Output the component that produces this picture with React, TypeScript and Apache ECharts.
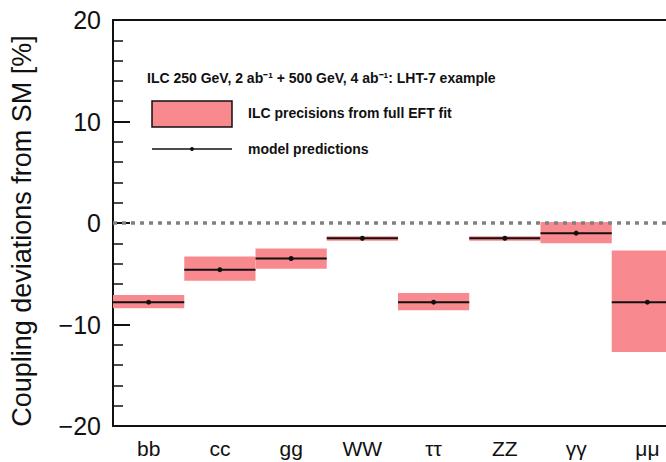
import React, { useEffect, useRef } from "react";
import * as echarts from "echarts";

const categories = ["bb", "cc", "gg", "WW", "ττ", "ZZ", "γγ", "μμ"];
const predictions = [-7.8, -4.6, -3.5, -1.5, -7.8, -1.5, -1.0, -7.8];
const precisionLow = [-8.4, -5.7, -4.5, -1.75, -8.6, -1.75, -2.0, -12.7];
const precisionHigh = [-7.1, -3.3, -2.5, -1.3, -6.9, -1.3, 0.1, -2.7];
const referenceLine = [0];
const yTicks = { min: -20, max: 20, interval: 10 };

const PINK = "#f8898e";
const FONT = "Liberation Sans, Arial, Helvetica, sans-serif";

export default function App() {
  const ref = useRef<HTMLDivElement>(null);
  useEffect(() => {
    document.body.style.margin = "0";
    document.body.style.overflow = "hidden";
    const chart = echarts.init(ref.current!, undefined, { renderer: "svg" });
    const data = categories.map((c, i) => [i, precisionLow[i], precisionHigh[i], predictions[i]]);
    chart.setOption({
      animation: false,
      backgroundColor: "#ffffff",
      grid: { left: 113, right: 17, top: 20, bottom: 36 },
      xAxis: [
        {
          type: "category",
          data: categories,
          position: "bottom",
          boundaryGap: true,
          axisLine: { onZero: false, lineStyle: { color: "#111", width: 2 } },
          axisTick: { inside: true, length: 13, lineStyle: { color: "#111", width: 2 } },
          axisLabel: { fontFamily: FONT, fontSize: 21, color: "#111", margin: 12 },
          splitLine: { show: false },
        },
        {
          type: "category",
          data: categories,
          position: "top",
          boundaryGap: true,
          axisLine: { onZero: false, lineStyle: { color: "#111", width: 2 } },
          axisTick: { inside: true, length: 12, lineStyle: { color: "#111", width: 2 } },
          axisLabel: { show: false },
          splitLine: { show: false },
        },
      ],
      yAxis: {
        type: "value",
        min: yTicks.min,
        max: yTicks.max,
        interval: yTicks.interval,
        axisLine: { show: true, onZero: false, lineStyle: { color: "#111", width: 2 } },
        axisTick: { show: true, inside: true, length: 17, lineStyle: { color: "#111", width: 2 } },
        minorTick: { show: true, splitNumber: 5, length: 10, lineStyle: { color: "#111", width: 1.5 } },
        splitLine: { show: false },
        axisLabel: {
          fontFamily: FONT,
          fontSize: 25,
          color: "#111",
          margin: 12,
          formatter: (v: number) => String(v).replace("-", "\u2212"),
        },
      },
      series: [
        {
          type: "custom",
          xAxisIndex: 0,
          data,
          encode: { x: 0, y: [1, 2, 3] },
          renderItem: (params: any, api: any) => {
            const idx = api.value(0);
            const lo = api.value(1);
            const hi = api.value(2);
            const v = api.value(3);
            const bw = api.size([1, 0])[0];
            const pLo = api.coord([idx, lo]);
            const pHi = api.coord([idx, hi]);
            const pV = api.coord([idx, v]);
            return {
              type: "group",
              children: [
                {
                  type: "rect",
                  shape: { x: pLo[0] - bw / 2, y: pHi[1], width: bw, height: pLo[1] - pHi[1] },
                  style: { fill: PINK },
                },
                {
                  type: "line",
                  shape: { x1: pV[0] - bw / 2, y1: pV[1], x2: pV[0] + bw / 2, y2: pV[1] },
                  style: { stroke: "#111", lineWidth: 2 },
                },
                {
                  type: "circle",
                  shape: { cx: pV[0], cy: pV[1], r: 2.5 },
                  style: { fill: "#111" },
                },
              ],
            };
          },
          markLine: {
            silent: true,
            symbol: "none",
            z: 10,
            label: { show: false },
            emphasis: { disabled: true },
            lineStyle: { color: "#808080", width: 3.5, type: [4, 5], opacity: 1 },
            data: referenceLine.map((y) => ({
              yAxis: y,
              lineStyle: { color: "#808080", width: 3.5, type: [4, 5] },
            })),
          },
        },
      ],
      graphic: [
        {
          type: "text",
          x: 22,
          y: 231,
          rotation: Math.PI / 2,
          style: {
            text: "Coupling deviations from SM [%]",
            fontFamily: FONT,
            fontSize: 27,
            fill: "#111",
            textAlign: "center",
            textVerticalAlign: "middle",
          },
        },
        {
          type: "text",
          x: 147,
          y: 78,
          style: {
            text: "ILC 250 GeV, 2 ab\u207B\u00B9 + 500 GeV, 4 ab\u207B\u00B9: LHT-7 example",
            fontFamily: FONT,
            fontSize: 14,
            fontWeight: "bold",
            fill: "#111",
            textVerticalAlign: "middle",
          },
        },
        {
          type: "rect",
          shape: { x: 152, y: 101, width: 80, height: 26 },
          style: { fill: PINK, stroke: "#111", lineWidth: 1.5 },
        },
        {
          type: "text",
          x: 248,
          y: 113,
          style: {
            text: "ILC precisions from full EFT fit",
            fontFamily: FONT,
            fontSize: 14,
            fontWeight: "bold",
            fill: "#111",
            textVerticalAlign: "middle",
          },
        },
        {
          type: "line",
          shape: { x1: 152, y1: 149, x2: 232, y2: 149 },
          style: { stroke: "#111", lineWidth: 1.5 },
        },
        {
          type: "circle",
          shape: { cx: 192, cy: 149, r: 2 },
          style: { fill: "#111" },
        },
        {
          type: "text",
          x: 248,
          y: 149,
          style: {
            text: "model predictions",
            fontFamily: FONT,
            fontSize: 14,
            fontWeight: "bold",
            fill: "#111",
            textVerticalAlign: "middle",
          },
        },
      ],
    });
    return () => chart.dispose();
  }, []);
  return (
    <div
      ref={ref}
      style={{ position: "fixed", left: 0, top: 0, width: 700, height: 462 }}
    />
  );
}
